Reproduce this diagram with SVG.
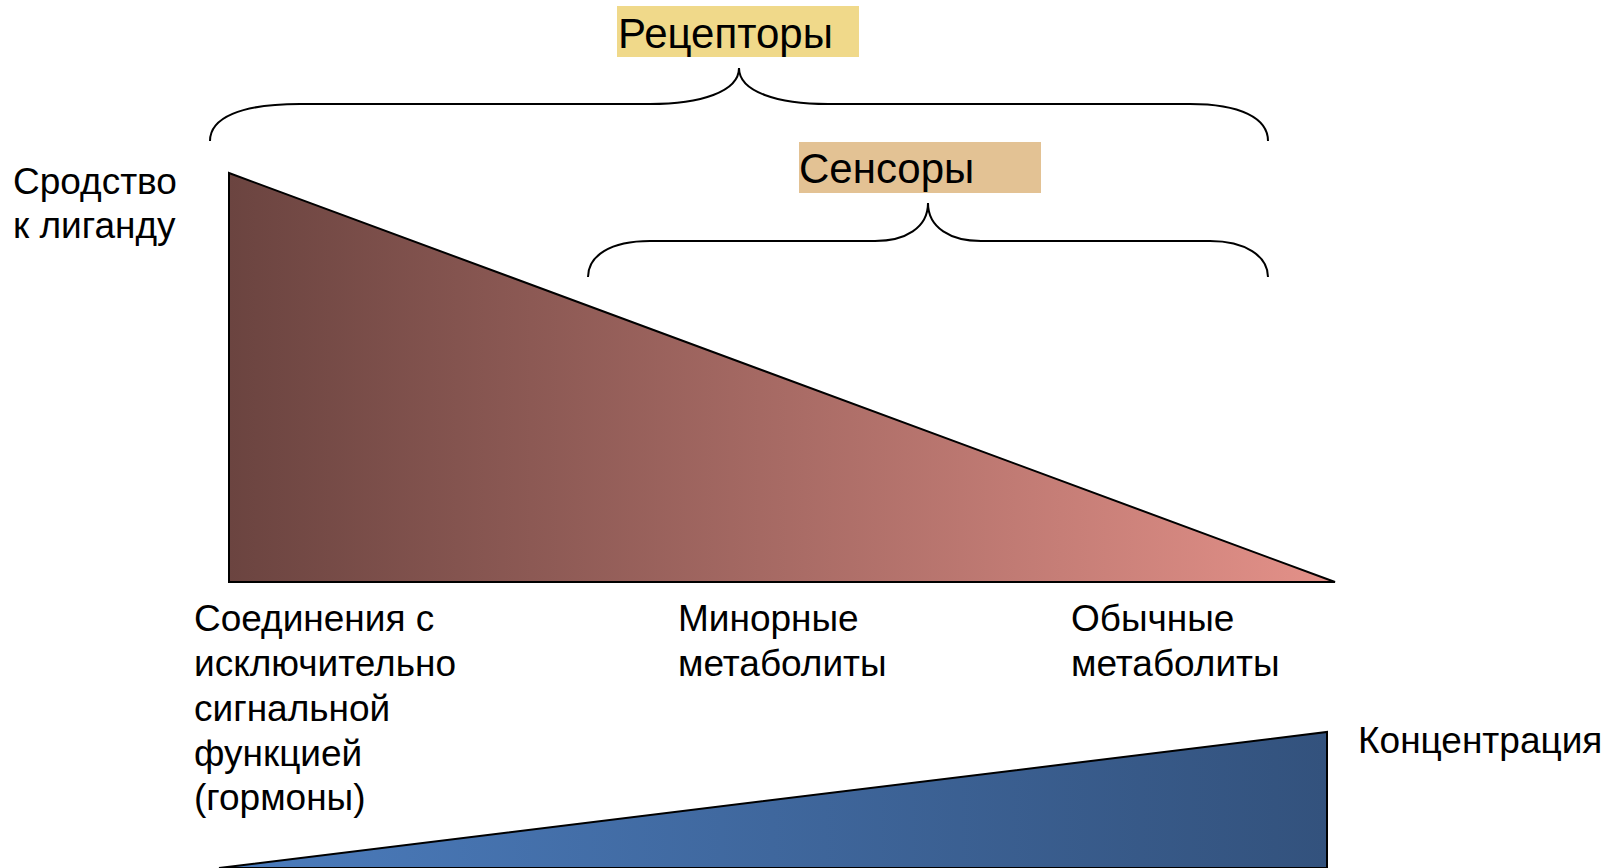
<svg xmlns="http://www.w3.org/2000/svg" width="1619" height="868" viewBox="0 0 1619 868">
<defs>
<linearGradient id="gRed" x1="0" y1="0" x2="1" y2="0">
<stop offset="0" stop-color="#6b4440"/>
<stop offset="1" stop-color="#e49189"/>
</linearGradient>
<linearGradient id="gBlue" x1="0" y1="0" x2="1" y2="0">
<stop offset="0" stop-color="#4b7cbd"/>
<stop offset="1" stop-color="#33527d"/>
</linearGradient>
<style>
text{font-family:"Liberation Sans",Arial,sans-serif;font-size:37px;fill:#000}
.brace{fill:none;stroke:#000;stroke-width:2}
.shape{stroke:#000;stroke-width:2;stroke-linejoin:miter}
</style>
</defs>
<rect width="1619" height="868" fill="#fff"/>
<g id="affinity-triangle">
<polygon class="shape" points="229,173 1335,582 229,582" fill="url(#gRed)"/>
</g>
<g id="concentration-wedge">
<polygon class="shape" points="219,868 1327,732 1327,868" fill="url(#gBlue)"/>
</g>
<g id="connectors">
<path class="brace" d="M210,141 C210,118 240,104 300,104 L650,104 C700,104 739,92 739,68 C739,92 778,104 828,104 L1190,104 C1240,104 1268,118 1268,141"/>
<path class="brace" d="M588,277 C588,256 610,241 650,241 L875,241 C905,241 928,228 928,203 C928,228 951,241 981,241 L1210,241 C1245,241 1268,256 1268,277"/>
</g>
<g id="receptors">
<rect x="617" y="6" width="242" height="51" fill="#f0d98a"/>
<text x="618" y="48" style="font-size:42px">Рецепторы</text>
</g>
<g id="sensors">
<rect x="799" y="142" width="242" height="51" fill="#e3c294"/>
<text x="799" y="183" style="font-size:42px">Сенсоры</text>
</g>
<g id="affinity-label">
<text x="13" y="194">Сродство</text>
<text x="13" y="238">к лиганду</text>
</g>
<g id="hormones-label">
<text x="194" y="631">Соединения с</text>
<text x="194" y="676">исключительно</text>
<text x="194" y="721">сигнальной</text>
<text x="194" y="766">функцией</text>
<text x="194" y="810">(гормоны)</text>
</g>
<g id="minor-label">
<text x="678" y="631">Минорные</text>
<text x="678" y="676">метаболиты</text>
</g>
<g id="ordinary-label">
<text x="1071" y="631">Обычные</text>
<text x="1071" y="676">метаболиты</text>
</g>
<g id="concentration-label">
<text x="1358" y="753">Концентрация</text>
</g>
</svg>
